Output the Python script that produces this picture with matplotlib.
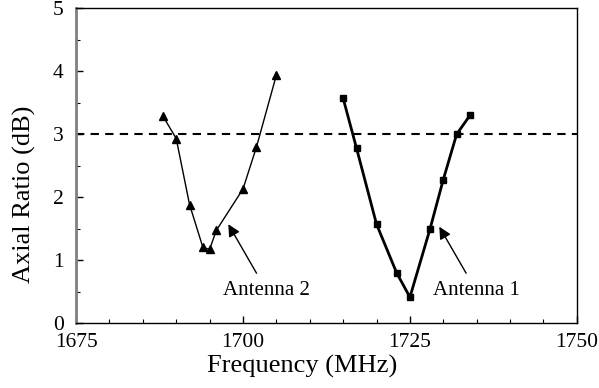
import matplotlib
matplotlib.use("Agg")
import matplotlib.pyplot as plt
from matplotlib.ticker import MultipleLocator

# Antenna 1 (thick line, squares)
freq_a1 = [1715, 1717, 1720, 1723, 1725, 1728, 1730, 1732, 1734]
ar_a1 = [3.57, 2.78, 1.57, 0.80, 0.41, 1.49, 2.28, 3.00, 3.30]

# Antenna 2 (thin line, triangles)
freq_a2 = [1688, 1690, 1692, 1694, 1695, 1696, 1700, 1702, 1705]
ar_a2 = [3.29, 2.93, 1.88, 1.20, 1.17, 1.47, 2.13, 2.79, 3.94]

AR_LIMIT = 3.0

plt.rcParams["font.family"] = ["Liberation Serif", "DejaVu Serif"]

fig = plt.figure(figsize=(5.99, 3.88), dpi=100)
ax = fig.add_axes([0.127, 0.1675, 0.836, 0.811])

ax.axhline(AR_LIMIT, color="black", lw=1.5, ls=(0, (4, 3)), zorder=1)
ax.plot(freq_a2, ar_a2, "-", color="black", lw=1.0, marker="^",
        markersize=5.5, zorder=3)
ax.plot(freq_a1, ar_a1, "-", color="black", lw=2.0, marker="s",
        markersize=5, zorder=3)

ax.annotate("Antenna 2", xy=(1697.8, 1.57), xytext=(1703.5, 0.52),
            ha="center", va="center", fontsize=15,
            arrowprops=dict(arrowstyle="-|>", color="black", lw=1.0,
                            mutation_scale=18, shrinkA=4, shrinkB=0))
ax.annotate("Antenna 1", xy=(1729.4, 1.53), xytext=(1734.9, 0.52),
            ha="center", va="center", fontsize=15,
            arrowprops=dict(arrowstyle="-|>", color="black", lw=1.0,
                            mutation_scale=18, shrinkA=4, shrinkB=0))

ax.set_xlim(1675, 1750)
ax.set_ylim(0, 5)
ax.xaxis.set_major_locator(MultipleLocator(25))
ax.xaxis.set_minor_locator(MultipleLocator(5))
ax.yaxis.set_major_locator(MultipleLocator(1))
ax.yaxis.set_minor_locator(MultipleLocator(0.5))
ax.tick_params(which="both", direction="in", labelsize=15.5, color="black")
ax.tick_params(which="major", length=5, width=1)
ax.tick_params(which="minor", length=3, width=0.8)
ax.tick_params(axis="x", pad=7)
ax.tick_params(axis="y", pad=9)

for side in ("top", "right", "bottom"):
    ax.spines[side].set_color("black")
    ax.spines[side].set_linewidth(1.0)
ax.spines["left"].set_color("#808080")
ax.spines["left"].set_linewidth(2.0)

# axis titles sit centred on the figure, not the axes
ax.set_xlabel("Frequency (MHz)", fontsize=19, labelpad=2)
ax.set_ylabel("Axial Ratio (dB)", fontsize=19, labelpad=10)
ax.xaxis.set_label_coords(0.452, -0.1)
ax.yaxis.set_label_coords(-0.08, 0.41)
ax.xaxis.label.set_va("top")

fig.savefig("out.png", dpi=100)
